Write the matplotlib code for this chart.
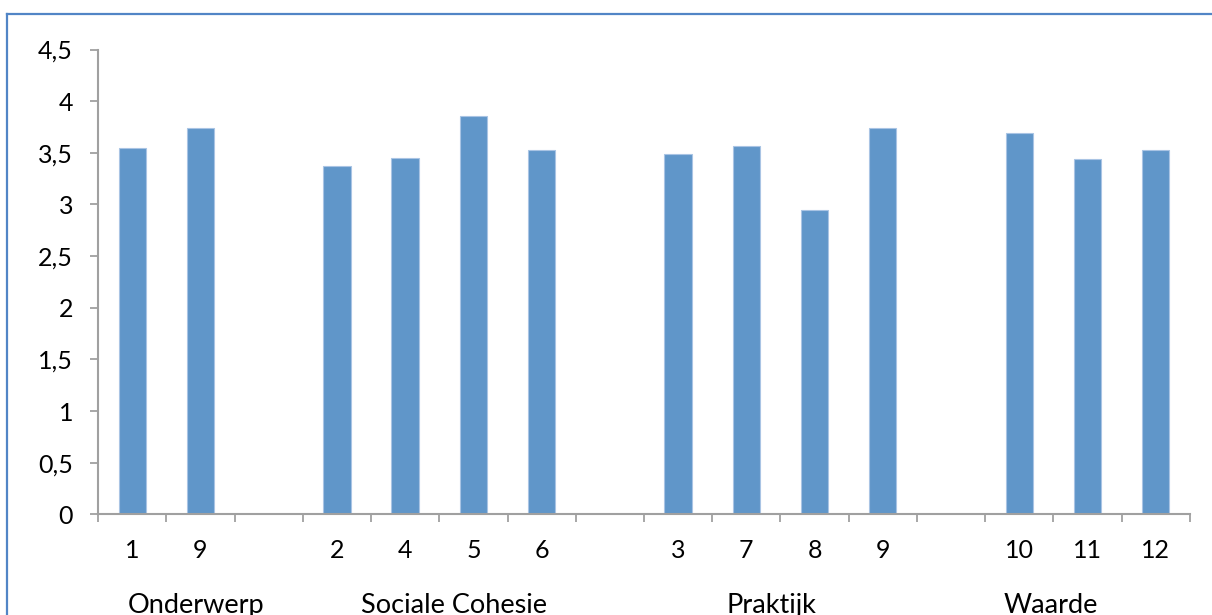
import matplotlib.pyplot as plt
from matplotlib.lines import Line2D
from matplotlib.ticker import FuncFormatter, MultipleLocator
from matplotlib.transforms import blended_transform_factory

# item numbers per slot, empty strings are the gaps between the groups
items = ["1", "9", "", "2", "4", "5", "6", "", "3", "7", "8", "9", "", "10", "11", "12"]
scores = [3.55, 3.74, None, 3.37, 3.45, 3.86, 3.53, None,
          3.49, 3.57, 2.95, 3.74, None, 3.69, 3.44, 3.53]
groups = ["Onderwerp", "Sociale Cohesie", "Praktijk", "Waarde"]
group_pos = [0.94, 4.72, 9.37, 13.46]

plt.rcParams['font.family'] = ['Lato', 'DejaVu Sans']
grey = "#A0A0A0"

fig = plt.figure(figsize=(12.12, 6.15), dpi=100)
ax = fig.add_axes([0.0809, 0.1637, 0.9009, 0.7558])

xs = [i for i, v in enumerate(scores) if v is not None]
vals = [v for v in scores if v is not None]
ax.bar(xs, vals, width=0.4, color="#6096C9", edgecolor="#A9C4E4", linewidth=0.8)

ax.set_xlim(-0.5, len(items) - 0.5)
ax.set_ylim(0, 4.5)
ax.yaxis.set_major_locator(MultipleLocator(0.5))
ax.yaxis.set_major_formatter(FuncFormatter(lambda v, p: ("%g" % v).replace(".", ",")))

# ticks on the slot boundaries, labels under the bars
ax.set_xticks([i - 0.5 for i in range(len(items) + 1)])
ax.set_xticklabels([])
ax.set_xticks(range(len(items)), minor=True)
ax.set_xticklabels(items, minor=True)
ax.tick_params(axis="x", which="major", length=6, width=1.3, color=grey, direction="out")
ax.tick_params(axis="x", which="minor", length=0, pad=18, labelsize=18)
ax.tick_params(axis="y", length=6, width=1.3, color=grey, pad=12, labelsize=18)

for s in ["top", "right"]:
    ax.spines[s].set_visible(False)
for s in ["left", "bottom"]:
    ax.spines[s].set_color(grey)
    ax.spines[s].set_linewidth(1.5)

# group names: x in data units, y in figure units
trans = blended_transform_factory(ax.transData, fig.transFigure)
for name, pos in zip(groups, group_pos):
    ax.text(pos, 0.004, name, transform=trans, ha="center", va="baseline",
            fontsize=19.5, clip_on=False)

# blue text-box border along the top and left
fig.add_artist(Line2D([0.0058, 0.0058], [0, 0.9775], color="#5185C6", lw=1.6))
fig.add_artist(Line2D([0.0058, 1.0], [0.9775, 0.9775], color="#5185C6", lw=1.6))

fig.savefig("out.png", dpi=100)
